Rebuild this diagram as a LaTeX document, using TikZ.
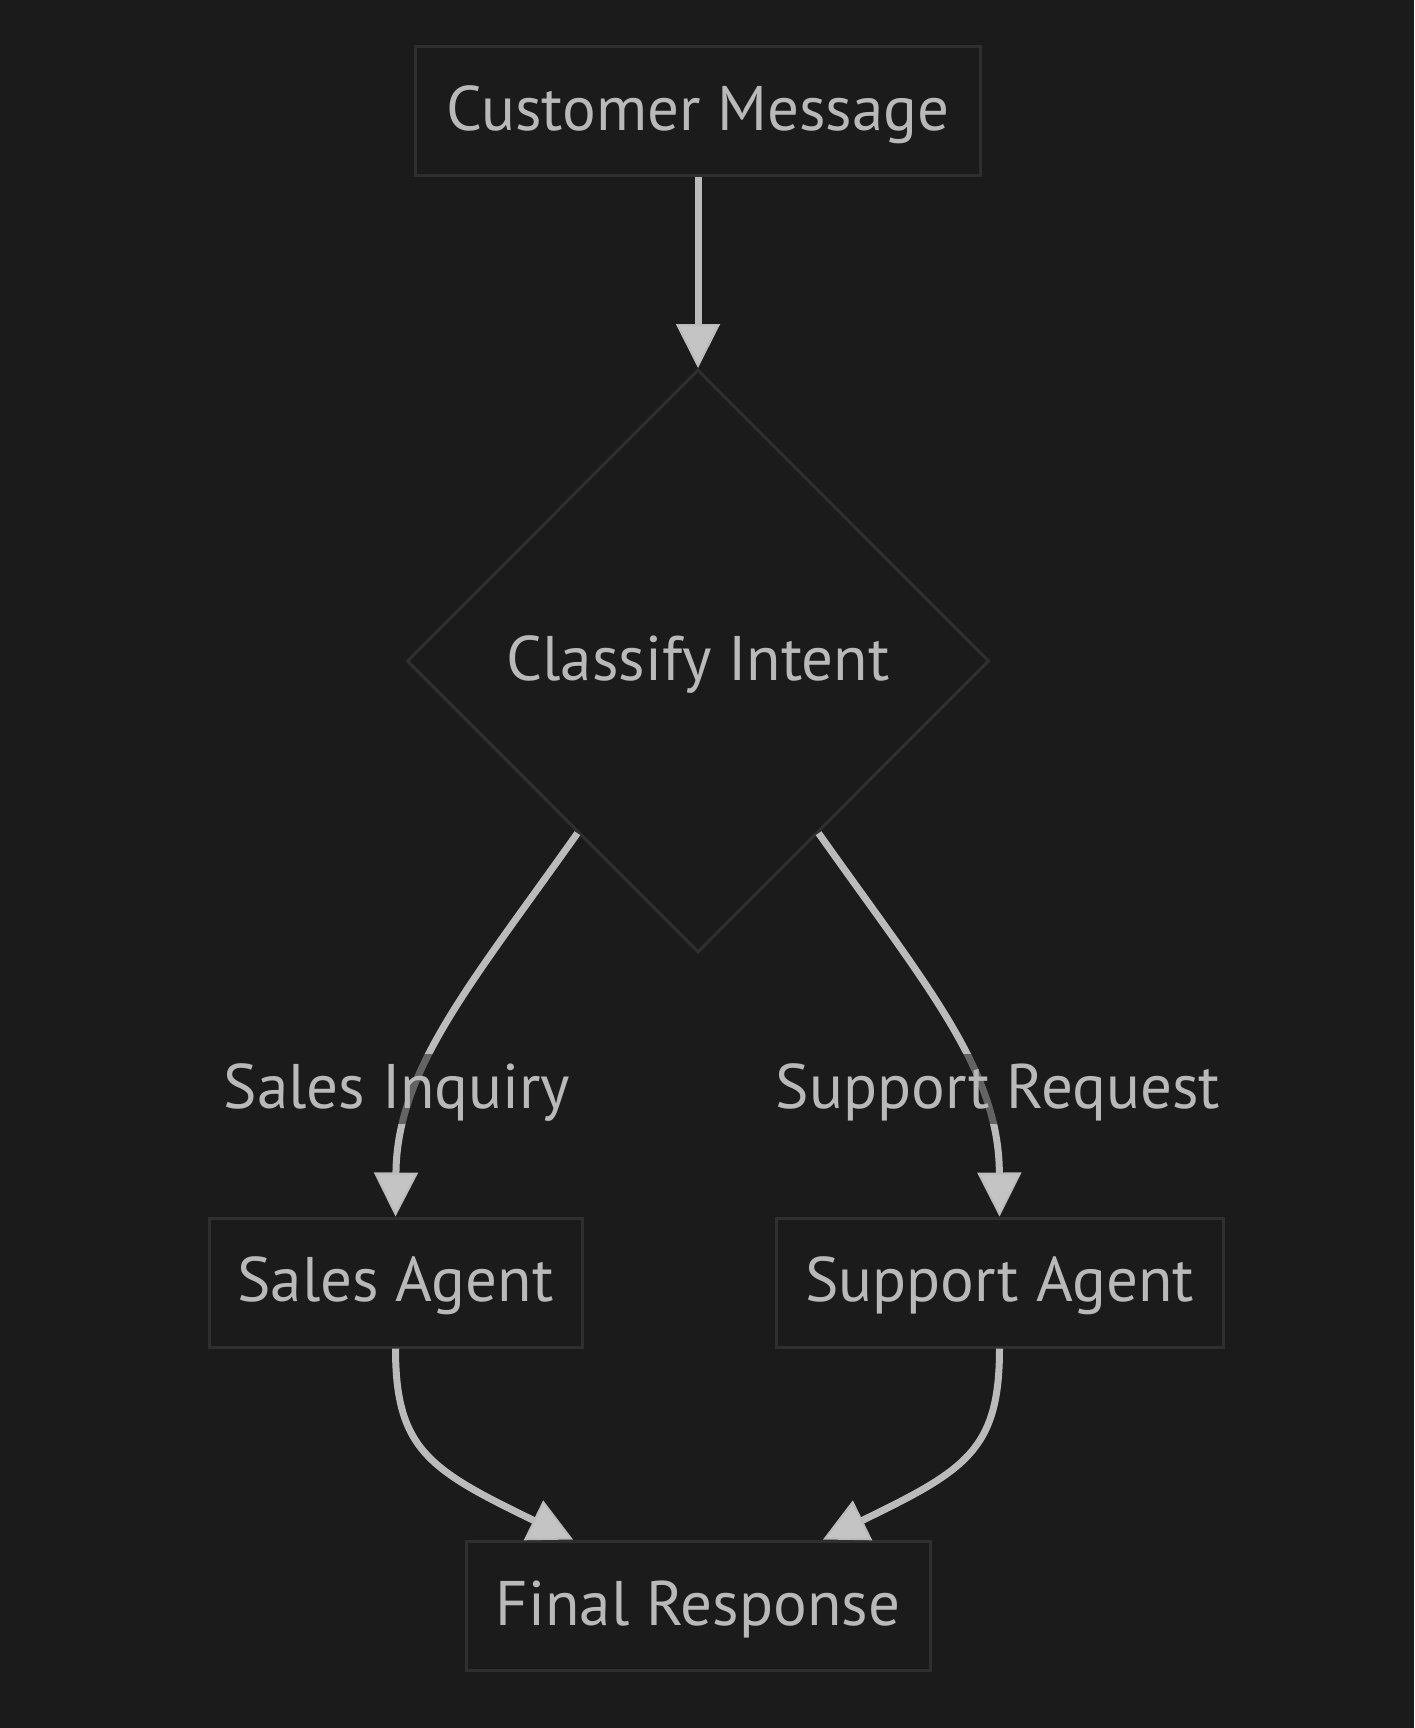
\documentclass[tikz,border=0pt]{standalone}
\usepackage{fontspec}
\setmainfont{PT Sans}
\usetikzlibrary{arrows.meta,shapes.geometric}
\definecolor{bgc}{HTML}{1B1B1B}
\definecolor{bordc}{HTML}{2F2F2F}
\definecolor{txtc}{HTML}{B9B9B9}
\definecolor{linec}{HTML}{BBBBBB}
\definecolor{tipc}{HTML}{C4C4C4}
\newcommand{\lowtxt}[1]{\raisebox{-1.8pt}[\height][\depth]{#1}}
\begin{document}
\begin{tikzpicture}[x=0.5pt,y=-0.5pt,
  every node/.style={font=\fontsize{31.5}{36}\selectfont, text=txtc},
  box/.style={draw=bordc, fill=bgc, line width=1.5pt, inner sep=0pt, minimum height=64.5pt},
  dia/.style={diamond, draw=bordc, fill=bgc, line width=1.5pt, inner sep=0pt, minimum width=291pt, minimum height=291.5pt},
  edge/.style={draw=linec, line width=3.5pt, -{Triangle[length=22pt,width=22pt,fill=tipc,line width=1pt]}},
  lbl/.style={fill=bgc, fill opacity=0.55, text opacity=1, inner sep=3pt}
]
\fill[bgc] (0,0) rectangle (1414,1728);
\useasboundingbox (0,0) rectangle (1414,1728);

\node[box, minimum width=282.5pt] (cm) at (698,111.5) {\lowtxt{Customer Message}};
\node[dia] (cls) at (698,661) {\lowtxt{Classify Intent}};
\node[box, minimum width=186.5pt] (sa) at (395.5,1282.5) {\lowtxt{Sales Agent}};
\node[box, minimum width=223.5pt] (su) at (999.5,1282.5) {\lowtxt{Support Agent}};
\node[box, minimum width=232pt] (fr) at (698,1605.5) {\lowtxt{Final Response}};

\draw[edge] (cm.south) -- (cls.north);
\draw[edge] (cls.235) .. controls (470,985) and (397,1070) .. (sa.north);
\draw[edge] (cls.305) .. controls (926,985) and (999,1070) .. (su.north);
\draw[edge] (sa.south) .. controls (395.5,1450) and (430,1470) .. ([xshift=-62.5pt]fr.north);
\draw[edge] (su.south) .. controls (999.5,1450) and (966,1470) .. ([xshift=62.5pt]fr.north);

\node[lbl] (l1) at (397,1089) {\lowtxt{Sales Inquiry}};
\node[lbl] (l2) at (998,1089) {\lowtxt{Support Request}};
\end{tikzpicture}
\end{document}
